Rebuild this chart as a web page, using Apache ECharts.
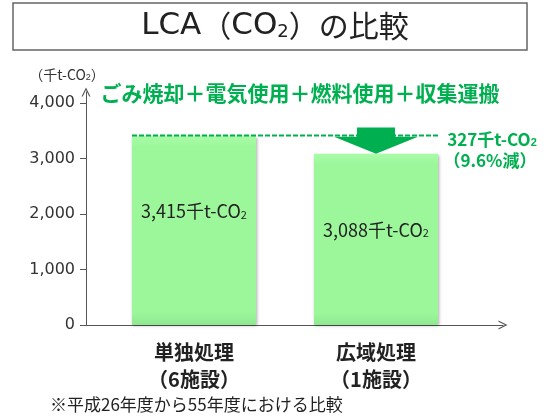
<!DOCTYPE html>
<html>
<head>
<meta charset="utf-8">
<script src="https://cdn.jsdelivr.net/npm/echarts@6/dist/echarts.min.js"></script>
<style>
html, body { margin: 0; padding: 0; background: #fff; }
#main { width: 550px; height: 417px; }
</style>
</head>
<body>
<div id="main"></div>
<script>
// LCA（CO2排出量、千t-CO2）処理方式ごと
const categories = ['単独処理\n（6施設）', '広域処理\n（1施設）'];
const emissions = [3415, 3088];
const yTicks = [0, 1000, 2000, 3000, 4000];
const yMax = 4200;
const breakdown = 'ごみ焼却＋電気使用＋燃料使用＋収集運搬';
const footnote = '※平成26年度から55年度における比較';

const GREEN = '#00b050';
const BAR_W = 124;
const FONT = '"Noto Sans CJK JP", "DejaVu Sans", sans-serif';
const NUM_FONT = '"DejaVu Sans", "Noto Sans CJK JP", sans-serif';
const chevron = 'path://M0,10 L5,0 L10,10 L8.6,10 L5,2.8 L1.4,10 Z';

const chart = echarts.init(document.getElementById('main'));

function fmt(v) {
  return Number(v).toLocaleString('en-US');
}

chart.setOption({
  animation: false,
  title: {
    text: '{lat|LCA}（{lat|CO}{sub|2}）の比較',
    left: 'center',
    top: 10,
    padding: 0,
    textStyle: {
      fontFamily: FONT, fontSize: 30, fontWeight: 'normal', color: '#222',
      rich: {
        lat: { fontFamily: NUM_FONT, fontSize: 31, color: '#222' },
        sub: { fontFamily: NUM_FONT, fontSize: 18, verticalAlign: 'bottom', color: '#222' }
      }
    }
  },
  grid: [
    { left: 86, right: 47, top: 92, bottom: 92, outerBoundsMode: 'none' },
    { left: 103, width: 364, top: 92, bottom: 92, outerBoundsMode: 'none' }
  ],
  xAxis: [
    {
      gridIndex: 0, type: 'category', data: categories,
      axisLine: { symbol: ['none', chevron], symbolSize: [9, 9], lineStyle: { color: '#555', width: 1 } },
      axisTick: { show: false },
      axisLabel: { show: false }
    },
    {
      gridIndex: 1, type: 'category', data: categories,
      axisLine: { show: false },
      axisTick: { show: false },
      axisLabel: { margin: 14, fontFamily: FONT, fontSize: 20, fontWeight: 'bold', color: '#222', lineHeight: 27 }
    }
  ],
  yAxis: [
    {
      gridIndex: 0, type: 'value', min: 0, max: yMax,
      splitLine: { show: false },
      axisLine: { show: true, symbol: ['none', chevron], symbolSize: [9, 9], lineStyle: { color: '#555' } },
      axisTick: { show: true, length: 6, customValues: yTicks, lineStyle: { color: '#555' } },
      axisLabel: { customValues: yTicks, margin: 11, fontFamily: NUM_FONT, fontSize: 16, color: '#333', formatter: fmt }
    },
    { gridIndex: 1, type: 'value', min: 0, max: yMax, show: false }
  ],
  series: [{
    type: 'bar',
    xAxisIndex: 1,
    yAxisIndex: 1,
    data: emissions,
    barWidth: BAR_W,
    itemStyle: {
      color: new echarts.graphic.LinearGradient(0, 0, 0, 1, [
        { offset: 0, color: '#aafca8' },
        { offset: 0.06, color: '#9cf79b' },
        { offset: 0.93, color: '#9cf79b' },
        { offset: 1, color: '#8fe88e' }
      ]),
      shadowColor: 'rgba(0,0,0,0.35)',
      shadowBlur: 3,
      shadowOffsetX: 1,
      shadowOffsetY: 1
    },
    label: {
      show: true,
      position: 'insideTop',
      distance: 67,
      formatter: p => fmt(p.value) + '千t-CO{sub|2}',
      fontFamily: FONT, fontSize: 18, color: '#222',
      rich: { sub: { fontFamily: FONT, fontSize: 11, verticalAlign: 'bottom', color: '#222' } }
    }
  }]
});

// 注記（点線・矢印・削減量）は軸の座標から求める
const p0 = chart.convertToPixel({ gridIndex: 1 }, [0, emissions[0]]);
const p1 = chart.convertToPixel({ gridIndex: 1 }, [1, emissions[1]]);
const diff = emissions[0] - emissions[1];
const pct = (diff / emissions[0] * 100).toFixed(1);
const lineY = p0[1];
const tipY = p1[1];
const cx = p1[0];

chart.setOption({
  graphic: [
    {
      type: 'rect', z: 10,
      shape: { x: 13, y: 3, width: 514, height: 47 },
      style: { fill: 'none', stroke: '#666', lineWidth: 1.5 }
    },
    {
      type: 'text', z: 10, x: 67, y: 75,
      style: {
        text: '（千t-CO{sub|2}）', align: 'center', verticalAlign: 'middle',
        font: '14px ' + FONT, fill: '#333',
        rich: { sub: { fontSize: 9, verticalAlign: 'bottom', fill: '#333' } }
      }
    },
    {
      type: 'text', z: 10, x: 300, y: 93,
      style: {
        text: breakdown, align: 'center', verticalAlign: 'middle',
        font: 'bold 21px ' + FONT, fill: GREEN
      }
    },
    {
      type: 'line', z: 10,
      shape: { x1: p0[0] - BAR_W / 2, y1: lineY, x2: p1[0] + BAR_W / 2, y2: lineY },
      style: { stroke: GREEN, lineWidth: 2, lineDash: [5, 2] }
    },
    {
      type: 'polygon', z: 11,
      shape: {
        points: [
          [cx - 19, lineY - 8], [cx + 19, lineY - 8], [cx + 19, tipY - 17],
          [cx + 42, tipY - 17], [cx, tipY], [cx - 42, tipY - 17], [cx - 19, tipY - 17]
        ]
      },
      style: { fill: GREEN }
    },
    {
      type: 'text', z: 10, x: 492, y: tipY - 14,
      style: {
        text: diff + '千t-CO{sub|2}', align: 'center', verticalAlign: 'middle',
        font: 'bold 17px ' + FONT, fill: GREEN,
        rich: { sub: { fontSize: 11, fontWeight: 'bold', verticalAlign: 'bottom', fill: GREEN } }
      }
    },
    {
      type: 'text', z: 10, x: 490, y: tipY + 7,
      style: {
        text: '（' + pct + '%減）', align: 'center', verticalAlign: 'middle',
        font: 'bold 17px ' + FONT, fill: GREEN
      }
    },
    {
      type: 'text', z: 10, x: 50, y: 405,
      style: {
        text: footnote, align: 'left', verticalAlign: 'middle',
        font: '17px ' + FONT, fill: '#222'
      }
    }
  ]
});
</script>
</body>
</html>
